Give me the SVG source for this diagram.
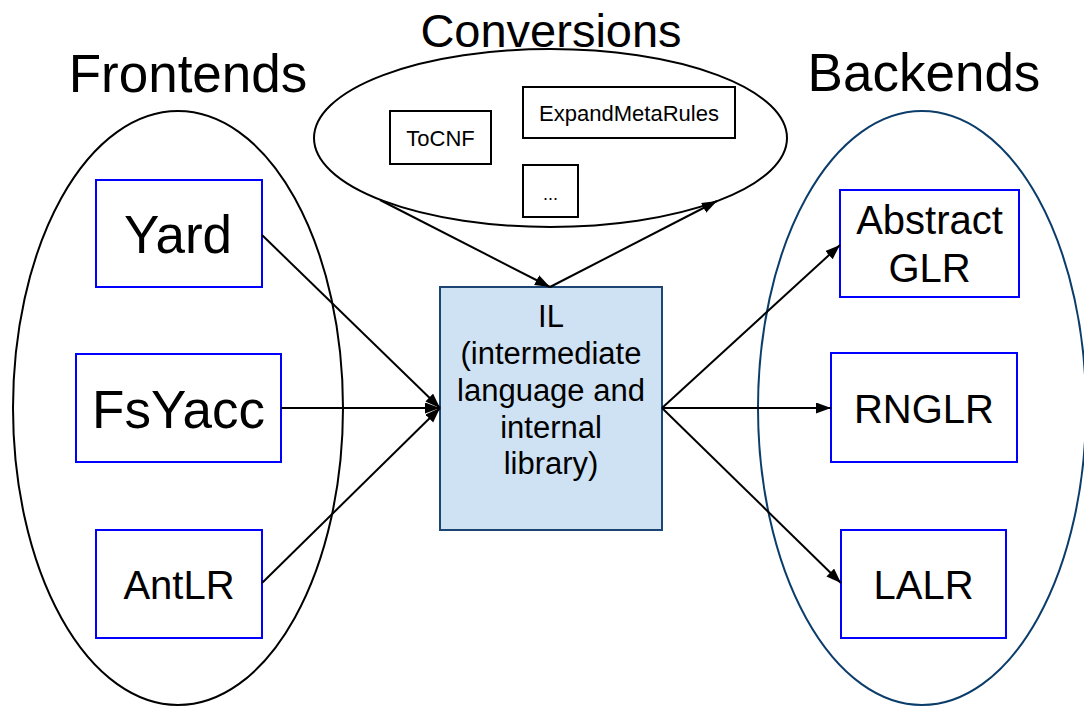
<svg xmlns="http://www.w3.org/2000/svg" width="1084" height="707" viewBox="0 0 1084 707">
<style>
text{font-family:"Liberation Sans",Arial,sans-serif;fill:#000;text-anchor:middle}
.grp{fill:none;stroke:#000;stroke-width:2}
.grpb{fill:none;stroke:#0b3d6b;stroke-width:2}
.node{fill:#fff;stroke:#0000ff;stroke-width:2}
.conv{fill:#fff;stroke:#000;stroke-width:2}
.il{fill:#cfe2f3;stroke:#1c4573;stroke-width:2}
.edge{fill:none;stroke:#000;stroke-width:2;marker-end:url(#arr)}
.title{font-size:47px}
.big{font-size:53px}
.mid{font-size:40px}
.sm{font-size:22px}
.ilt{font-size:31px}
</style>
<defs>
<marker id="arr" markerUnits="userSpaceOnUse" markerWidth="16" markerHeight="12" refX="15" refY="5.5" orient="auto">
<path d="M0,0 L15,5.5 L0,11 z" fill="#000"/>
</marker>
</defs>
<g id="frontends">
<ellipse class="grp" cx="178" cy="408" rx="165" ry="297"/>
<text class="big" x="188" y="92">Frontends</text>
</g>
<g id="backends">
<ellipse class="grpb" cx="922" cy="408" rx="164" ry="297"/>
<text class="big" x="924" y="91">Backends</text>
</g>
<g id="conversions">
<ellipse class="grp" cx="550.5" cy="138" rx="236.5" ry="89"/>
<text class="title" x="551" y="47">Conversions</text>
</g>
<g id="tocnf">
<rect class="conv" x="390" y="111" width="101" height="53"/>
<text class="sm" x="440.5" y="146">ToCNF</text>
</g>
<g id="expandmetarules">
<rect class="conv" x="523" y="87" width="212" height="51"/>
<text class="sm" x="629" y="121">ExpandMetaRules</text>
</g>
<g id="more">
<rect class="conv" x="523" y="165" width="55" height="52"/>
<text x="550.5" y="200" style="font-size:18px">...</text>
</g>
<g id="yard">
<rect class="node" x="96" y="180" width="166" height="107"/>
<text class="big" x="178" y="253">Yard</text>
</g>
<g id="fsyacc">
<rect class="node" x="76" y="354" width="205" height="108"/>
<text class="big" x="178.5" y="428">FsYacc</text>
</g>
<g id="antlr">
<rect class="node" x="96" y="530" width="166" height="108"/>
<text class="mid" x="179" y="599">AntLR</text>
</g>
<g id="il">
<rect class="il" x="440" y="287" width="222" height="243"/>
<text class="ilt" x="551" y="327">IL</text>
<text class="ilt" x="551" y="364">(intermediate</text>
<text class="ilt" x="551" y="401">language and</text>
<text class="ilt" x="551" y="438">internal</text>
<text class="ilt" x="551" y="474">library)</text>
</g>
<g id="abstractglr">
<rect class="node" x="840" y="190" width="179" height="107"/>
<text class="mid" x="929.5" y="234">Abstract</text>
<text class="mid" x="929.5" y="282">GLR</text>
</g>
<g id="rnglr">
<rect class="node" x="831" y="353" width="186" height="109"/>
<text class="mid" x="924" y="423">RNGLR</text>
</g>
<g id="lalr">
<rect class="node" x="841" y="530" width="165" height="108"/>
<text class="mid" x="923.5" y="599">LALR</text>
</g>
<g id="connectors">
<line class="edge" x1="262" y1="235" x2="440" y2="408"/>
<line class="edge" x1="281" y1="408" x2="440" y2="408"/>
<line class="edge" x1="262" y1="583" x2="440" y2="408"/>
<line class="edge" x1="662" y1="408" x2="840" y2="245"/>
<line class="edge" x1="662" y1="408" x2="831" y2="408"/>
<line class="edge" x1="662" y1="408" x2="841" y2="583"/>
<line class="edge" x1="380" y1="200" x2="550" y2="287"/>
<line class="edge" x1="550" y1="287" x2="717" y2="201"/>
</g>
</svg>
